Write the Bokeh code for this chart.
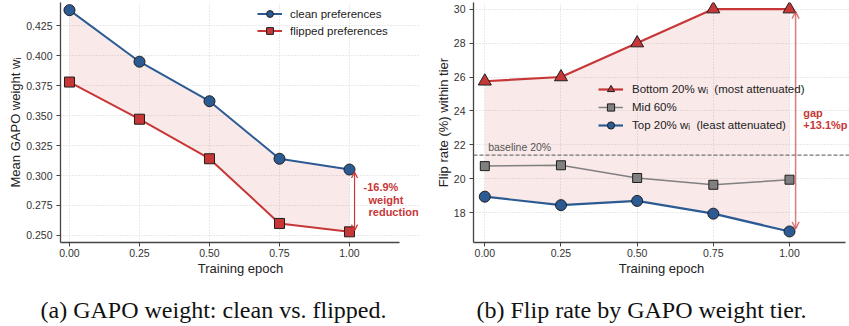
from bokeh.plotting import figure
from bokeh.layouts import row, column
from bokeh.models import (Legend, LegendItem, Span, Label, Arrow, OpenHead,
                          FixedTicker, PrintfTickFormatter, Range1d)
from bokeh.embed import file_html
from bokeh.resources import INLINE

# ---------------- data ----------------
epochs = [0.00, 0.25, 0.50, 0.75, 1.00]
clean_w = [0.438, 0.395, 0.362, 0.314, 0.305]
flipped_w = [0.378, 0.347, 0.314, 0.260, 0.253]

bottom_tier = [25.75, 26.0, 28.0, 30.0, 30.0]
mid_tier = [20.75, 20.8, 20.05, 19.65, 19.95]
top_tier = [18.95, 18.45, 18.7, 17.95, 16.9]
baseline = 21.4

x_ticks = [0.0, 0.25, 0.5, 0.75, 1.0]
left_y_ticks = [0.250, 0.275, 0.300, 0.325, 0.350, 0.375, 0.400, 0.425]
right_y_ticks = [18, 20, 22, 24, 26, 28, 30]

BLUE = "#2c5b94"
RED = "#c83737"
GRAY = "#808080"
EDGE = "#1e1e1e"
SANS = "Liberation Sans"


def style(p, yticks, yfmt, ylabel, xbounds):
    p.outline_line_color = None
    p.background_fill_color = "white"
    p.border_fill_color = "white"
    p.xaxis.ticker = FixedTicker(ticks=x_ticks)
    p.yaxis.ticker = FixedTicker(ticks=yticks)
    p.xaxis.formatter = PrintfTickFormatter(format="%.2f")
    p.yaxis.formatter = PrintfTickFormatter(format=yfmt)
    p.xaxis.axis_label = "Training epoch"
    p.yaxis.axis_label = ylabel
    p.xaxis.bounds = xbounds
    for ax in (p.xaxis[0], p.yaxis[0]):
        ax.axis_line_color = "#444444"
        ax.axis_line_width = 1.3
        ax.major_tick_line_color = "#444444"
        ax.major_tick_line_width = 1
        ax.major_tick_in = 0
        ax.major_tick_out = 4
        ax.minor_tick_line_color = None
        ax.major_label_text_font = SANS
        ax.major_label_text_font_size = "10.5px"
        ax.major_label_text_color = "#333333"
        ax.axis_label_text_font = SANS
        ax.axis_label_text_font_size = "13px"
        ax.axis_label_text_font_style = "normal"
        ax.axis_label_text_color = "#222222"
    p.xaxis.major_label_standoff = 2
    p.xaxis.axis_label_standoff = 1
    p.yaxis.major_label_standoff = 4
    p.yaxis.axis_label_standoff = 0
    for g in (p.xgrid[0], p.ygrid[0]):
        g.grid_line_color = "#d4d4d4"
        g.grid_line_dash = "1 2"
        g.grid_line_width = 1
    p.xgrid.ticker = FixedTicker(ticks=x_ticks)
    p.ygrid.ticker = FixedTicker(ticks=yticks)


def caption_fig(width, text, cx):
    c = figure(width=width, height=40, output_backend="svg", toolbar_location=None,
               x_range=Range1d(0, width), y_range=Range1d(0, 40),
               min_border=0, min_border_left=0, min_border_right=0,
               min_border_top=0, min_border_bottom=0)
    c.axis.visible = False
    c.grid.visible = False
    c.outline_line_color = None
    c.add_layout(Label(x=cx, y=17, text=text, text_font="Liberation Serif",
                       text_font_size="24px", text_color="#111111",
                       text_align="center", text_baseline="middle"))
    return c


# ---------------- panel (a) ----------------
pa = figure(width=420, height=286, output_backend="svg", toolbar_location=None,
            x_range=Range1d(-0.0321, 1.2536), y_range=Range1d(0.2441, 0.4444),
            min_border_left=60, min_border_right=0, min_border_top=2, min_border_bottom=44)
style(pa, left_y_ticks, "%.3f", "Mean GAPO weight wᵢ", (-0.0321, 1.1786))

pa.varea(x=epochs, y1=flipped_w, y2=clean_w, fill_color=RED, fill_alpha=0.11)
lc = pa.line(epochs, clean_w, line_color=BLUE, line_width=2)
mc = pa.scatter(epochs, clean_w, marker="circle", size=11, fill_color=BLUE,
                line_color=EDGE, line_width=1)
lf = pa.line(epochs, flipped_w, line_color=RED, line_width=2)
mf = pa.scatter(epochs, flipped_w, marker="square", size=10, fill_color=RED,
                line_color=EDGE, line_width=1)

pa.add_layout(Arrow(x_start=1.018, y_start=flipped_w[-1] + 0.001, x_end=1.018, y_end=clean_w[-1] - 0.002,
                    line_color=RED, line_width=1.2,
                    start=OpenHead(size=6, line_color=RED, line_width=1.2),
                    end=OpenHead(size=6, line_color=RED, line_width=1.2)))
for txt, xx, yy in [("-16.9%", 1.050, 0.2903), ("weight", 1.068, 0.2798), ("reduction", 1.068, 0.2697)]:
    pa.add_layout(Label(x=xx, y=yy, text=txt, text_font=SANS, text_font_size="11px",
                        text_font_style="bold", text_color=RED, text_baseline="middle"))

leg_a = Legend(items=[LegendItem(label="clean preferences", renderers=[lc, mc]),
                      LegendItem(label="flipped preferences", renderers=[lf, mf])],
               location=(197, 203), padding=0, spacing=0, margin=0,
               glyph_width=25, glyph_height=17, label_height=17, label_standoff=8,
               label_text_font=SANS, label_text_font_size="11.5px", label_text_color="#222222",
               border_line_color=None, background_fill_alpha=0)
pa.add_layout(leg_a)

# ---------------- panel (b) ----------------
pb = figure(width=429, height=286, output_backend="svg", toolbar_location=None,
            x_range=Range1d(-0.0371, 1.1969), y_range=Range1d(16.25, 30.39),
            min_border_left=53, min_border_right=0, min_border_top=2, min_border_bottom=44)
style(pb, right_y_ticks, "%d", "Flip rate (%) within tier", (-0.0371, 1.1838))

pb.varea(x=epochs, y1=top_tier, y2=bottom_tier, fill_color=RED, fill_alpha=0.11)
pb.add_layout(Span(location=baseline, dimension="width", line_color="#666666",
                   line_dash="4 2", line_width=1.2, line_alpha=0.9))
pb.add_layout(Label(x=0.011, y=21.89, text="baseline 20%", text_font=SANS, text_font_size="10.5px",
                    text_color="#555555", text_baseline="middle"))

lb = pb.line(epochs, bottom_tier, line_color=RED, line_width=2.2)
mb = pb.scatter(epochs, bottom_tier, marker="triangle", size=13, fill_color=RED,
                line_color=EDGE, line_width=1)
lm = pb.line(epochs, mid_tier, line_color=GRAY, line_width=1.5)
mm = pb.scatter(epochs, mid_tier, marker="square", size=9, fill_color=GRAY,
                line_color=EDGE, line_width=1)
lt = pb.line(epochs, top_tier, line_color=BLUE, line_width=2.2)
mt = pb.scatter(epochs, top_tier, marker="circle", size=11, fill_color=BLUE,
                line_color=EDGE, line_width=1)

pb.add_layout(Arrow(x_start=1.02, y_start=top_tier[-1] + 0.15, x_end=1.02, y_end=bottom_tier[-1] - 0.15,
                    line_color=RED, line_width=1.5, line_alpha=0.65,
                    start=OpenHead(size=7, line_color=RED, line_width=1.5, line_alpha=0.65),
                    end=OpenHead(size=7, line_color=RED, line_width=1.5, line_alpha=0.65)))
for txt, yy in [("gap", 23.9), ("+13.1%p", 23.2)]:
    pb.add_layout(Label(x=1.045, y=yy, text=txt, text_font=SANS, text_font_size="11px",
                        text_font_style="bold", text_color=RED, text_baseline="middle"))

leg_b = Legend(items=[LegendItem(label="Bottom 20% wᵢ  (most attenuated)", renderers=[lb, mb]),
                      LegendItem(label="Mid 60%", renderers=[lm, mm]),
                      LegendItem(label="Top 20% wᵢ  (least attenuated)", renderers=[lt, mt])],
               location=(125, 108), padding=0, spacing=0, margin=0,
               glyph_width=25, glyph_height=18, label_height=18, label_standoff=9,
               label_text_font=SANS, label_text_font_size="11.5px", label_text_color="#222222",
               border_line_color=None, background_fill_alpha=0)
pb.add_layout(leg_b)

cap_a = caption_fig(420, "(a) GAPO weight: clean vs. flipped.", 213)
cap_b = caption_fig(429, "(b) Flip rate by GAPO weight tier.", 221)

layout = column(row(pa, pb, spacing=0), row(cap_a, cap_b, spacing=0), spacing=0)
open("out.html", "w").write(file_html(layout, INLINE))
